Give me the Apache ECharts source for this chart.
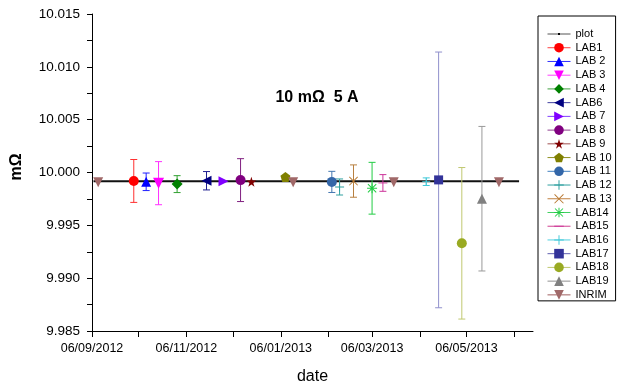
<!DOCTYPE html>
<html>
<head>
<meta charset="utf-8">
<script src="https://cdn.jsdelivr.net/npm/echarts@6/dist/echarts.min.js"></script>
<style>
html,body{margin:0;padding:0;background:#fff;}
#chart{width:622px;height:390px;}
</style>
</head>
<body>
<div id="chart"></div>
<script>
// ---------- data ----------
const baseDate = '2012-09-06';
const xTickDates = ['2012-09-06','2012-11-06','2013-01-06','2013-03-06','2013-05-06'];
const xTickLabels = ['06/09/2012','06/11/2012','06/01/2013','06/03/2013','06/05/2013'];
const xMinorDates = ['2012-10-06','2012-12-06','2013-02-06','2013-04-06','2013-06-06'];
const yTickLabels = ['9.985','9.990','9.995','10.000','10.005','10.010','10.015'];

const labNames  = ['LAB1','LAB 2','LAB 3','LAB 4','LAB6','LAB 7','LAB 8','LAB 9','LAB 10','LAB 11','LAB 12','LAB 13','LAB14','LAB15','LAB16','LAB17','LAB18','LAB19'];
const labDates  = ['2012-10-03','2012-10-11','2012-10-19','2012-10-31','2012-11-19','2012-11-30','2012-12-11','2012-12-18','2013-01-09','2013-02-08','2013-02-13','2013-02-22','2013-03-06','2013-03-13','2013-04-10','2013-04-18','2013-05-03','2013-05-16'];
const labValues = [9.99920, 9.99912, 9.99899, 9.99890, 9.99922, 9.99918, 9.99928, 9.99912, 9.99958, 9.99911, 9.99863, 9.99919, 9.99851, 9.99901, 9.99913, 9.99930, 9.99330, 9.99752];
const labErrors = [0.00203, 0.00083, 0.00204, 0.00080, 0.00087, 0, 0.00203, 0, 0, 0.00100, 0.00076, 0.00153, 0.00245, 0.00079, 0.00036, 0.01210, 0.00717, 0.00684];

const inrimDates  = ['2012-09-10','2013-01-14','2013-03-20','2013-05-27'];
const inrimValues = [9.99908, 9.99908, 9.99908, 9.99908];
const plotDates   = ['2012-09-07','2013-06-09'];
const plotValues  = [9.99917, 9.99917];

// ---------- styles ----------
const labColors   = ['#ff0000','#0000ff','#ff00ff','#008000','#000080','#8000ff','#800080','#800000','#808000','#3366a8','#2a9d9d','#b87830','#22cc44','#cc3399','#40c8d8','#333399','#99aa22','#808080'];
const labLine     = ['#ff4040','#3030ff','#ff40ff','#40a040','#4040a0','#8040ff','#904090','#a05050','#909020','#4080c0','#30a0a0','#c08040','#40d060','#d04090','#50d0e0','#6060b0','#c0c870','#909090'];
const errColors   = ['#ff3030','#2020ff','#ff30ff','#30a030','#202090','#8000ff','#802080','#800000','#808000','#4477b0','#30a0a0','#b88040','#22cc44','#cc3399','#40c8d8','#9090cc','#c0c870','#999999'];
const P = 'path://';
const labSymbols = [
  'circle','triangle','triangle','diamond','triangle','triangle','circle',
  P+'M5,0L6.2,3.8L10,3.8L6.9,6.1L8.1,10L5,7.6L1.9,10L3.1,6.1L0,3.8L3.8,3.8Z',
  P+'M5,0L10,3.8L8.1,10L1.9,10L0,3.8Z',
  'circle',
  P+'M4.5,0H5.5V10H4.5Z M0,4.5H10V5.5H0Z',
  P+'M0,0.7L0.7,0L10,9.3L9.3,10Z M9.3,0L10,0.7L0.7,10L0,9.3Z',
  P+'M4.5,0H5.5V10H4.5Z M0,4.5H10V5.5H0Z M0.5,1.2L1.2,0.5L9.5,8.8L8.8,9.5Z M8.8,0.5L9.5,1.2L1.2,9.5L0.5,8.8Z',
  P+'M0,0M10,10M0,4.5H10V5.5H0Z',
  P+'M4.5,0H5.5V10H4.5Z M0,4.5H10V5.5H0Z',
  'rect','circle','triangle'
];
const labRotate = [0,0,180,0,90,-90,0,0,0,0,0,0,0,0,0,0,0,0];
const labSize   = [10,10,11,11,10,10,10,10,10,10,9,9,10,9,8,9,10,10];

function dayOf(s){
  const a = s.split('-').map(Number), b = baseDate.split('-').map(Number);
  return (Date.UTC(a[0],a[1]-1,a[2]) - Date.UTC(b[0],b[1]-1,b[2]))/864e5;
}
const xTickDays = xTickDates.map(dayOf);
const xMinorDays = xMinorDates.map(dayOf);
const FONT = 'Liberation Sans, Arial, sans-serif';

const series = [];
series.push({
  name:'plot', type:'line', z:1,
  data: plotDates.map((d,i)=>[dayOf(d), plotValues[i]]),
  symbol: P+'M0,0M10,10M4,4H6V6H4Z', symbolSize:10, showSymbol:false,
  itemStyle:{color:'#000'},
  lineStyle:{color:'#111', width:2.2},
  silent:true
});
labNames.forEach((n,i)=>{
  series.push({
    name:n, type:'line', z:4,
    data:[[dayOf(labDates[i]), labValues[i]]],
    symbol: labSymbols[i], symbolSize: labSize[i], symbolRotate: labRotate[i],
    itemStyle:{color: labColors[i]},
    lineStyle:{color: labLine[i], width:1},
    silent:true
  });
});
series.push({
  name:'INRIM', type:'line', z:4,
  data: inrimDates.map((d,i)=>[dayOf(d), inrimValues[i]]),
  symbol:'triangle', symbolRotate:180, symbolSize:10,
  itemStyle:{color:'#a06868'},
  lineStyle:{color:'#a06060', width:0, opacity:0},
  silent:true
});
// error bars
const errData = [];
labNames.forEach((n,i)=>{
  if (labErrors[i] > 0) errData.push({value:[dayOf(labDates[i]), labValues[i], labErrors[i]], itemStyle:{color: errColors[i]}});
});
series.push({
  name:'errors', type:'custom', z:2, silent:true,
  encode:{x:0, y:1},
  data: errData,
  renderItem(params, api){
    const x = api.value(0), v = api.value(1), e = api.value(2);
    const t = api.coord([x, v+e]), b = api.coord([x, v-e]);
    const c = api.visual('color'); const w = 3.5;
    const st = {stroke:c, lineWidth:1};
    return {type:'group', children:[
      {type:'line', shape:{x1:t[0],y1:t[1],x2:b[0],y2:b[1]}, style:st},
      {type:'line', shape:{x1:t[0]-w,y1:t[1],x2:t[0]+w,y2:t[1]}, style:st},
      {type:'line', shape:{x1:b[0]-w,y1:b[1],x2:b[0]+w,y2:b[1]}, style:st}
    ]};
  }
});

const legendNames = ['plot'].concat(labNames).concat(['INRIM']);
const legendLineColors = ['#555555'].concat(labLine).concat(['#a06060']);

const chart = echarts.init(document.getElementById('chart'), null, {renderer:'canvas'});
chart.setOption({
  animation:false,
  backgroundColor:'#fff',
  textStyle:{fontFamily:FONT},
  grid:{left:92, top:14, right:89, bottom:53, containLabel:false},
  xAxis:{
    type:'value', min:0, max:285,
    name:'date', nameLocation:'middle', nameGap:38,
    nameTextStyle:{fontSize:16, color:'#000', fontFamily:FONT},
    axisLine:{show:true, onZero:false, lineStyle:{color:'#000', width:1}},
    axisTick:{show:true, length:6, lineStyle:{color:'#000'}, customValues: xTickDays.concat(xMinorDays)},
    axisLabel:{show:true, color:'#000', fontSize:12.5, fontFamily:FONT, margin:11,
      customValues: xTickDays,
      formatter:(v)=>{ const k = xTickDays.indexOf(v); return k>=0 ? xTickLabels[k] : ''; }},
    splitLine:{show:false}
  },
  yAxis:{
    type:'value', min:9.985, max:10.015, interval:0.005,
    axisLine:{show:true, onZero:false, lineStyle:{color:'#000', width:1}},
    axisTick:{show:true, length:5, lineStyle:{color:'#000'}},
    minorTick:{show:true, splitNumber:2, length:5, lineStyle:{color:'#000'}},
    axisLabel:{color:'#000', fontSize:13.5, fontFamily:FONT, margin:12,
      formatter:(v)=>{ const s = v.toFixed(3); return yTickLabels.indexOf(s)>=0 ? s : ''; }},
    splitLine:{show:false}
  },
  legend:{
    orient:'vertical', left:538, top:16,
    padding:[12,4,0,9],
    itemWidth:23, itemHeight:12, itemGap:1.73,
    borderColor:'#000', borderWidth:1, borderRadius:0,
    backgroundColor:'#fff',
    selectedMode:false,
    textStyle:{fontSize:11, color:'#000', fontFamily:FONT, lineHeight:12},
    data: legendNames.map((n,i)=>({name:n, lineStyle:{color:legendLineColors[i], width:1, opacity:1}}))
  },
  graphic:[
    {type:'text', x:317, y:98, style:{text:'10 mΩ  5 A', font:'bold 16px '+FONT, fill:'#000', align:'center', verticalAlign:'middle'}},
    {type:'text', x:17, y:167, rotation:Math.PI/2, style:{text:'mΩ', font:'bold 16px '+FONT, fill:'#000', align:'center', verticalAlign:'middle'}}
  ],
  series: series
});
</script>
</body>
</html>
